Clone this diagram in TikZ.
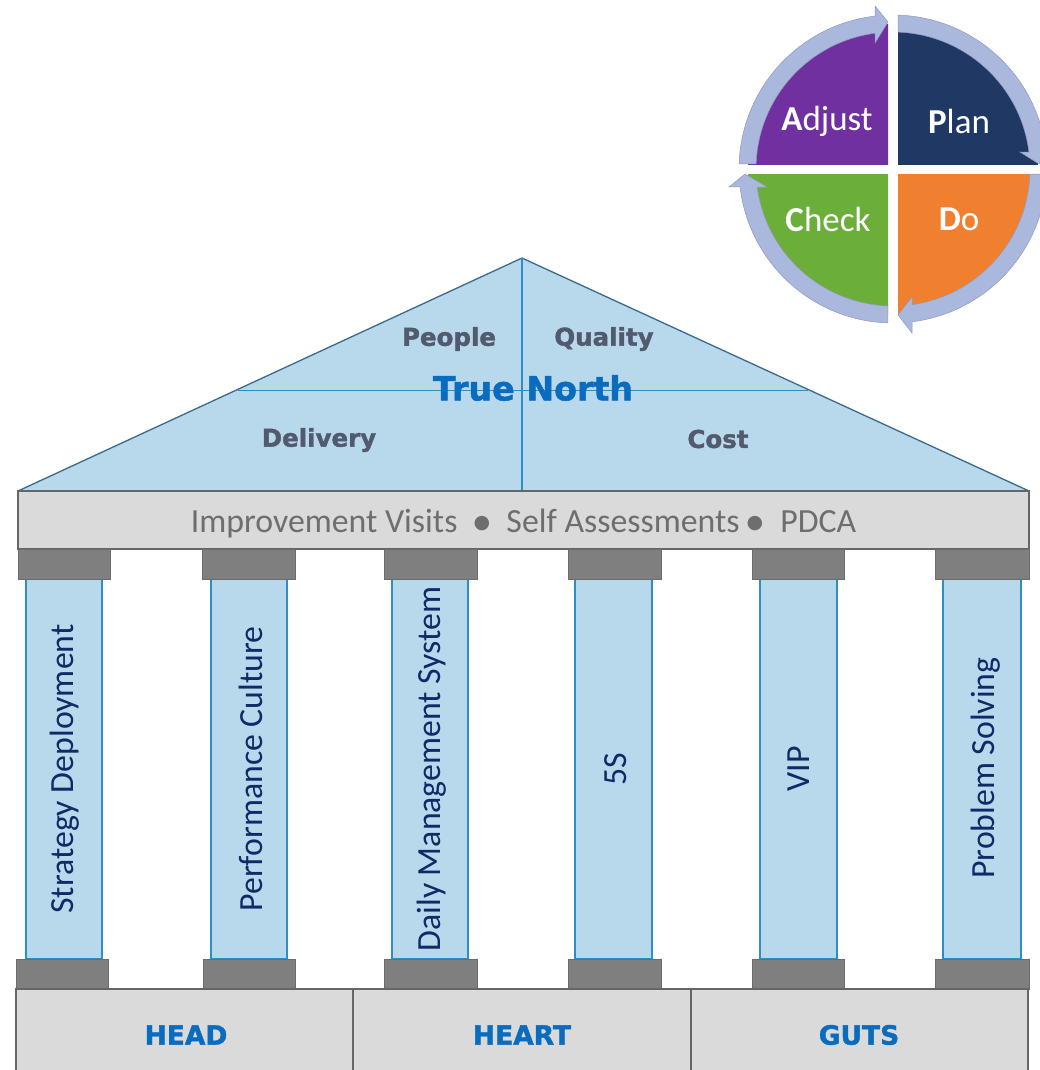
\documentclass[tikz,border=0pt]{standalone}
\usepackage{fontspec}
\setmainfont{Carlito}
\newfontfamily\heavy[BoldFeatures={FakeBold=1.6}]{DejaVu Sans}
\newfontfamily\dotfont{DejaVu Sans}
\newcommand{\sepdot}{\raisebox{4pt}{\dotfont\fontsize{19}{19}\selectfont ●}}
\definecolor{roofblue}{HTML}{B8D8EC}
\definecolor{roofedge}{HTML}{3A6A8C}
\definecolor{edgeblue}{HTML}{2E8FC4}
\definecolor{beam}{HTML}{DADADA}
\definecolor{capgray}{HTML}{7F7F7F}
\definecolor{txtgray}{HTML}{6E6E70}
\definecolor{slate}{HTML}{525A6E}
\definecolor{trueblue}{HTML}{0A6CBE}
\definecolor{navytxt}{HTML}{0F2A66}
\definecolor{ringc}{HTML}{A9B8DC}
\definecolor{ringedge}{HTML}{8E9BB8}
\definecolor{cpurple}{HTML}{7030A0}
\definecolor{cnavy}{HTML}{1F3864}
\definecolor{corange}{HTML}{F08030}
\definecolor{cgreen}{HTML}{6CAE3A}
\tikzset{
  capblock/.style={fill=capgray,draw=capgray!85!black,line width=0.7pt},
  pillar/.style={fill=roofblue,draw=edgeblue,line width=1.3pt},
  slab/.style={fill=beam,draw=black!60,line width=1.2pt},
  pillartext/.style={rotate=90,text=navytxt,font=\fontsize{33.8}{34}\selectfont,inner sep=0pt},
  rooflabel/.style={text=slate,font=\heavy\bfseries\fontsize{24.5}{25}\selectfont,inner sep=0pt},
  basetext/.style={text=trueblue,font=\heavy\bfseries\fontsize{26.5}{27}\selectfont,inner sep=0pt},
  pdcatext/.style={text=white,font=\fontsize{35}{35}\selectfont,inner sep=0pt},
  ring/.style={fill=ringc,draw=ringedge,line width=0.5pt}
}
\begin{document}
\begin{tikzpicture}[x=1pt,y=-1pt]
\useasboundingbox (0,0) rectangle (1040,1070);
% roof
\fill[roofblue] (18,491) -- (522,258) -- (1029,491) -- cycle;
\draw[roofedge,line width=1.3pt] (18,491) -- (522,258) -- (1029,491);
\draw[edgeblue,line width=1.2pt] (238,390.5) -- (808,390.5);
\draw[edgeblue,line width=1.2pt] (522,258) -- (522,491);
\node[rooflabel] (people) at (449,339) {People};
\node[rooflabel] (quality) at (604,339) {Quality};
\node[rooflabel] (delivery) at (319,440) {Delivery};
\node[rooflabel] (cost) at (718,439) {Cost};
\node[text=trueblue,font=\heavy\bfseries\fontsize{33.3}{34}\selectfont,inner sep=0pt] (north) at (533,388) {True North};
% beam
\draw[slab] (18,491) rectangle (1029,549);
\node[text=txtgray,font=\fontsize{33.8}{34}\selectfont,inner sep=0pt] (visits) at (523.5,523) {Improvement Visits\hspace{16.2pt}\sepdot\hspace{16.2pt}Self Assessments\hspace{6.9pt}\sepdot\hspace{17.2pt}PDCA};
% columns
\foreach \a/\b in {26/102,211/287,392/468,575/652,760/837,943/1021}
  \draw[pillar] (\a,579) rectangle (\b,959);
\foreach \a/\b in {18/110,202/295,384/477,568/661,752/844,935/1029}
  \draw[capblock] (\a,549) rectangle (\b,579);
\foreach \a/\b in {16/108,203/295,384/477,568/661,752/844,935/1029}
  \draw[capblock] (\a,959) rectangle (\b,989);
\node[pillartext] (p1) at (65,769) {Strategy Deployment};
\node[pillartext] (p2) at (251,769) {Performance Culture};
\node[pillartext] (p3) at (432,769) {Daily Management System};
\node[pillartext] (p4) at (616,769) {5S};
\node[pillartext] (p5) at (799,769) {VIP};
\node[pillartext] (p6) at (986,768) {Problem Solving};
% foundation
\fill[beam] (16,989) rectangle (1028,1070);
\draw[black!60,line width=1.2pt] (16,1070) -- (16,989) -- (1028,989) -- (1028,1070);
\draw[black!60,line width=1.2pt] (353,989) -- (353,1070);
\draw[black!60,line width=1.2pt] (691,989) -- (691,1070);
\node[basetext] (head) at (186,1035) {HEAD};
\node[basetext] (heart) at (522,1035) {HEART};
\node[basetext] (guts) at (859,1035) {GUTS};
% PDCA wheel, centred at (893,169); angles run clockwise on screen because y points down
\begin{scope}
\clip (0,0) rectangle (1040,1070);
\begin{scope}[shift={(893,169)}]
\begin{scope}\clip (-5,-5) rectangle (-170,-170); \fill[cpurple] (0,0) circle[radius=145]; \end{scope}
\begin{scope}\clip (5,-5) rectangle (170,-170); \fill[cnavy] (0,0) circle[radius=145]; \end{scope}
\begin{scope}\clip (5,5) rectangle (170,170); \fill[corange] (0,0) circle[radius=145]; \end{scope}
\begin{scope}\clip (-5,5) rectangle (-170,170); \fill[cgreen] (0,0) circle[radius=145]; \end{scope}
\path[ring] (181.9:154) arc[start angle=181.9,end angle=263.3,radius=154] -- (-18,-163) -- (-5,-147) -- (-18,-126) -- (262.5:137) arc[start angle=262.5,end angle=182.1,radius=137] -- cycle;
\path[ring] (-88.1:154) arc[start angle=-88.1,end angle=-6.3,radius=154] -- (164,-17) -- (146,-5) -- (127,-17) -- (-7.1:137) arc[start angle=-7.1,end angle=-87.9,radius=137] -- cycle;
\path[ring] (1.9:154) arc[start angle=1.9,end angle=82.9,radius=154] -- (19,164) -- (5,146) -- (19,128) -- (82:137) arc[start angle=82,end angle=2.1,radius=137] -- cycle;
\path[ring] (91.9:154) arc[start angle=91.9,end angle=173.3,radius=154] -- (-164,18) -- (-148,5) -- (-126,18) -- (172.4:137) arc[start angle=172.4,end angle=92.1,radius=137] -- cycle;
\end{scope}
\end{scope}
\node[pdcatext] (adjust) at (827,121) {\textbf{A}djust};
\node[pdcatext] (plan) at (959,121) {\textbf{P}lan};
\node[pdcatext] (do) at (959,219) {\textbf{D}o};
\node[pdcatext] (check) at (828,219) {\textbf{C}heck};
\end{tikzpicture}
\end{document}
